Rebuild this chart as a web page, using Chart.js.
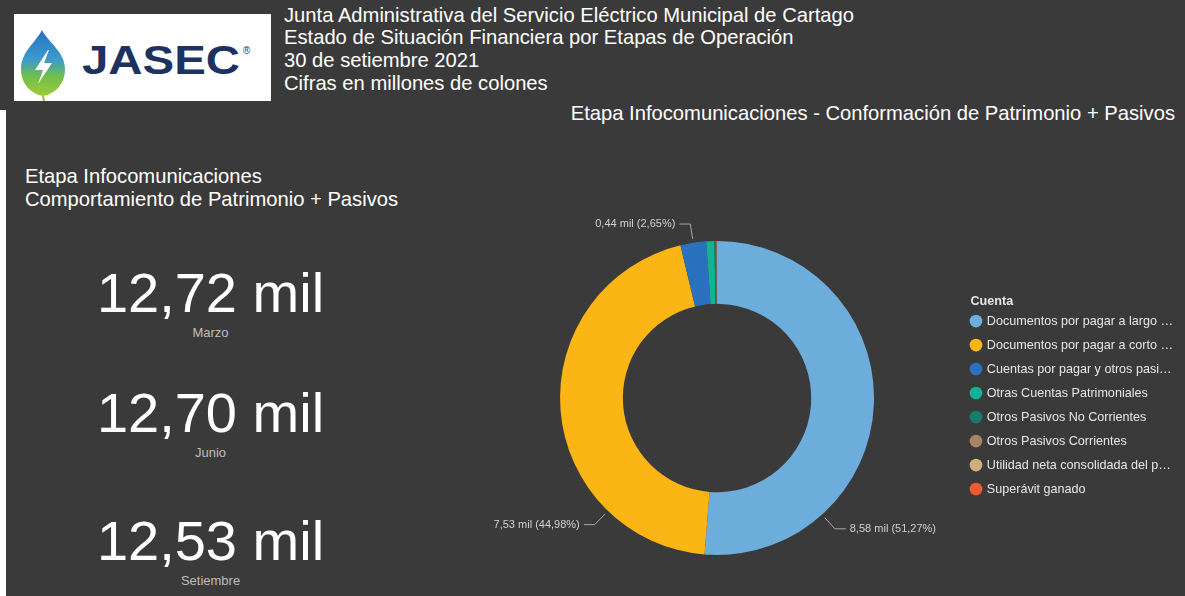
<!DOCTYPE html>
<html lang="es">
<head>
<meta charset="utf-8">
<title>JASEC - Etapa Infocomunicaciones</title>
<script src="https://cdn.jsdelivr.net/npm/chart.js@4.4.0/dist/chart.umd.min.js"></script>
<style>
  html, body { margin: 0; padding: 0; }
  body {
    width: 1185px; height: 596px; background: #3a3a3a; position: relative; overflow: hidden;
    font-family: "Liberation Sans", Arial, sans-serif; color: #fff;
  }
  .edge { position: absolute; left: 0; top: 110px; width: 6px; bottom: 0; background: #fff; }
  .logo { position: absolute; left: 14px; top: 14px; width: 257px; height: 87px; background: #fff; }
  .head { position: absolute; left: 284px; top: 3.6px; font-size: 20.2px; line-height: 22.8px; white-space: nowrap; }
  .sub { position: absolute; right: 10px; top: 101.6px; font-size: 20.2px; line-height: 22.8px; white-space: nowrap; }
  .ltitle { position: absolute; left: 25px; top: 164.6px; font-size: 20.2px; line-height: 23px; white-space: nowrap; }
  .kv { position: absolute; left: 0; width: 421px; text-align: center; font-size: 56px; line-height: 56px; }
  .kl { position: absolute; left: 0; width: 421px; text-align: center; font-size: 13px; line-height: 13px; color: #bdbdbd; }
  #wrap { position: absolute; left: 472px; top: 200px; width: 713px; height: 396px; }
</style>
</head>
<body>
<div class="edge"></div>
<div class="logo">
  <svg width="257" height="87" viewBox="0 0 257 87">
    <defs>
      <linearGradient id="drop" x1="0" y1="0" x2="0" y2="1">
        <stop offset="0" stop-color="#2a6fc0"/>
        <stop offset="0.45" stop-color="#3a9bcf"/>
        <stop offset="0.7" stop-color="#6fbf4a"/>
        <stop offset="1" stop-color="#9ccb3b"/>
      </linearGradient>
    </defs>
    <path d="M28,16 C22,28 7,38 7,55 C7,70 17,80 29,82 C41,80 51,70 51,55 C51,38 34,28 28,16 Z" fill="url(#drop)"/>
    <path d="M29,82 L30,87" stroke="#8cc63f" stroke-width="2"/>
    <path d="M34,36 L21,56 L29,56 L24,70 L38,49 L30,49 L35,36 Z" fill="#fff"/>
    <text x="68" y="60" font-family="Liberation Sans, Arial, sans-serif" font-weight="bold" font-size="40"
          fill="#1e3262" textLength="158" lengthAdjust="spacingAndGlyphs">JASEC</text>
    <text x="229" y="40" font-family="Liberation Sans, Arial, sans-serif" font-size="10" fill="#1e3262">®</text>
  </svg>
</div>
<div class="head">
  Junta Administrativa del Servicio Eléctrico Municipal de Cartago<br>
  Estado de Situación Financiera por Etapas de Operación<br>
  30 de setiembre 2021<br>
  Cifras en millones de colones
</div>
<div class="sub">Etapa Infocomunicaciones - Conformación de Patrimonio + Pasivos</div>
<div class="ltitle">Etapa Infocomunicaciones<br>Comportamiento de Patrimonio + Pasivos</div>
<div id="kpis"></div>
<div id="wrap"><canvas id="donut"></canvas></div>

<script>
// Patrimonio + pasivos por trimestre (millones de colones, en miles)
const kpiMonths = ['Marzo', 'Junio', 'Setiembre'];
const kpiValues = [12.72, 12.70, 12.53];

// Conformación por cuenta
const cuentas = [
  'Documentos por pagar a largo plazo',
  'Documentos por pagar a corto plazo',
  'Cuentas por pagar y otros pasivos corrientes',
  'Otras Cuentas Patrimoniales',
  'Otros Pasivos No Corrientes',
  'Otros Pasivos Corrientes',
  'Utilidad neta consolidada del periodo',
  'Superávit ganado'
];
const montos = [8.583, 7.530, 0.4436, 0.140, 0.033, 0.006, 0.003, 0.002];
const colores = ['#6caddc', '#fbb515', '#2a72bd', '#12b395', '#1a7b6a', '#a88462', '#cdb07f', '#ef5a30'];

const fmt = n => n.toFixed(2).replace('.', ',');
const legendFont = '12.6px "Liberation Sans", Arial, sans-serif';

// tarjetas de la izquierda
const kpiTops = [265, 385, 513];
const kpiBox = document.getElementById('kpis');
kpiValues.forEach((v, i) => {
  kpiBox.insertAdjacentHTML('beforeend',
    `<div class="kv" style="top:${kpiTops[i]}px">${fmt(v)} mil</div>` +
    `<div class="kl" style="top:${kpiTops[i] + 61}px">${kpiMonths[i]}</div>`);
});

// etiquetas con línea guía fuera del anillo
const sliceLabels = {
  id: 'sliceLabels',
  afterDatasetsDraw(chart, args, opts) {
    const ctx = chart.ctx;
    const ds = chart.data.datasets[0];
    const meta = chart.getDatasetMeta(0);
    const total = ds.data.reduce((a, b) => a + b, 0);
    ctx.save();
    ctx.font = opts.font;
    ctx.textBaseline = 'middle';
    meta.data.forEach((arc, i) => {
      const pct = ds.data[i] / total * 100;
      if (pct < opts.minPct) return;
      const p = arc.getProps(['x', 'y', 'startAngle', 'endAngle', 'outerRadius'], true);
      let a = (p.startAngle + p.endAngle) / 2;
      if (opts.angles[i] != null) a = (opts.angles[i] - 90) * Math.PI / 180;
      const cos = Math.cos(a), sin = Math.sin(a);
      const r1 = p.outerRadius + 4, r2 = p.outerRadius + 19;
      const x1 = p.x + cos * r1, y1 = p.y + sin * r1;
      const x2 = p.x + cos * r2, y2 = p.y + sin * r2;
      const dir = cos >= 0 ? 1 : -1;
      const x3 = x2 + dir * 11;
      ctx.strokeStyle = opts.lineColor;
      ctx.lineWidth = 1;
      ctx.beginPath();
      ctx.moveTo(x1, y1);
      ctx.lineTo(x2, y2);
      ctx.lineTo(x3, y2);
      ctx.stroke();
      ctx.fillStyle = opts.color;
      ctx.textAlign = dir > 0 ? 'left' : 'right';
      ctx.fillText(`${fmt(ds.data[i])} mil (${fmt(pct)}%)`, x3 + dir * 4, y2);
    });
    ctx.restore();
  }
};

// título de la leyenda alineado con los marcadores
const legendHeading = {
  id: 'legendHeading',
  afterDraw(chart, args, opts) {
    const boxes = chart.legend && chart.legend.legendHitBoxes;
    if (!boxes || !boxes.length) return;
    const first = boxes[0];
    const ctx = chart.ctx;
    ctx.save();
    ctx.font = opts.font;
    ctx.fillStyle = opts.color;
    ctx.textAlign = 'left';
    ctx.textBaseline = 'middle';
    ctx.fillText(opts.text, first.left - 1, first.top + first.height / 2 - 20);
    ctx.restore();
  }
};

function fitText(ctx, text, maxW) {
  if (ctx.measureText(text).width <= maxW) return text;
  let t = text;
  while (t.length && ctx.measureText(t + '…').width > maxW) t = t.slice(0, -1);
  return t + '…';
}

new Chart(document.getElementById('donut'), {
  type: 'doughnut',
  data: {
    labels: cuentas,
    datasets: [{ data: montos, backgroundColor: colores, borderWidth: 0 }]
  },
  plugins: [sliceLabels, legendHeading],
  options: {
    responsive: true,
    maintainAspectRatio: false,
    animation: false,
    cutout: '60%',
    layout: { padding: { top: 41, bottom: 41, left: 2, right: 2 } },
    plugins: {
      tooltip: { enabled: false },
      sliceLabels: {
        font: '11px "Liberation Sans", Arial, sans-serif',
        color: '#d0d0d0',
        lineColor: '#a8a8a8',
        minPct: 2,
        angles: [138, 224, null]
      },
      legendHeading: {
        text: 'Cuenta',
        color: '#e6e6e6',
        font: 'bold 12.6px "Liberation Sans", Arial, sans-serif'
      },
      legend: {
        position: 'right',
        align: 'center',
        // reserva el espacio del título; el texto lo dibuja legendHeading
        title: {
          display: true,
          text: 'Cuenta',
          color: 'rgba(0,0,0,0)',
          font: { size: 12.6, weight: 'bold', family: '"Liberation Sans", Arial, sans-serif' },
          padding: { top: 0, bottom: -1 }
        },
        labels: {
          color: '#e6e6e6',
          font: { size: 12.6, family: '"Liberation Sans", Arial, sans-serif' },
          usePointStyle: true,
          pointStyle: 'circle',
          boxWidth: 9,
          boxHeight: 9,
          padding: 11.4,
          generateLabels(chart) {
            const ctx = chart.ctx;
            ctx.save();
            ctx.font = legendFont;
            const items = chart.data.labels.map((lbl, i) => ({
              text: fitText(ctx, lbl, 191),
              fillStyle: colores[i],
              strokeStyle: colores[i],
              lineWidth: 0,
              fontColor: '#e6e6e6',
              pointStyle: 'circle',
              hidden: false,
              index: i
            }));
            ctx.restore();
            return items;
          }
        }
      }
    }
  }
});
</script>
</body>
</html>
